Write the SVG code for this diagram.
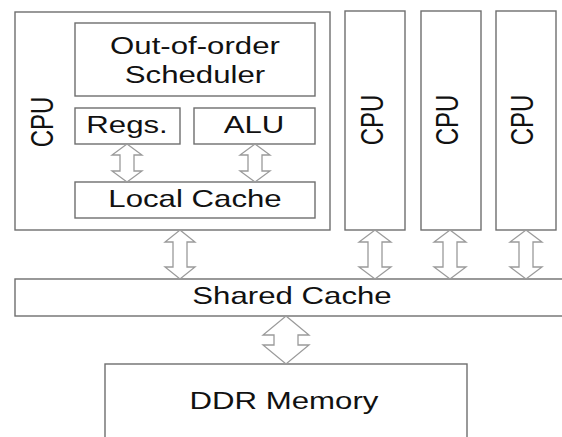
<svg xmlns="http://www.w3.org/2000/svg" width="562" height="437" viewBox="0 0 562 437">
<style>
.box{fill:#fff;stroke:#6e6e6e;stroke-width:1.4}
.arr{fill:#fff;stroke:#9a9a9a;stroke-width:1.3;stroke-linejoin:miter}
.t{font-family:"Liberation Sans",Arial,sans-serif;font-size:24px;fill:#111;text-anchor:middle}
</style>
<rect width="562" height="437" fill="#fff"/>
<g id="cpu-main">
<rect class="box" x="15" y="12" width="315" height="218"/>
<g transform="translate(53,122) scale(1.28,1) rotate(-90)"><text class="t" x="0" y="0">CPU</text></g>
</g>
<g id="scheduler">
<rect class="box" x="75" y="23" width="240" height="73"/>
<g transform="translate(195,54) scale(1.3,1)"><text class="t" x="0" y="0">Out-of-order</text></g>
<g transform="translate(195,83) scale(1.3,1)"><text class="t" x="0" y="0">Scheduler</text></g>
</g>
<g id="regs">
<rect class="box" x="75" y="108" width="105" height="36"/>
<g transform="translate(127,133) scale(1.3,1)"><text class="t" x="0" y="0">Regs.</text></g>
</g>
<g id="alu">
<rect class="box" x="194" y="108" width="121" height="36"/>
<g transform="translate(254,133) scale(1.3,1)"><text class="t" x="0" y="0">ALU</text></g>
</g>
<g id="local-cache">
<rect class="box" x="75" y="182" width="240" height="36"/>
<g transform="translate(195,207) scale(1.3,1)"><text class="t" x="0" y="0">Local Cache</text></g>
</g>
<g id="cpu-2">
<rect class="box" x="345" y="11" width="60" height="219"/>
<g transform="translate(383,120) scale(1.28,1) rotate(-90)"><text class="t" x="0" y="0">CPU</text></g>
</g>
<g id="cpu-3">
<rect class="box" x="421" y="11" width="60" height="219"/>
<g transform="translate(458,120) scale(1.28,1) rotate(-90)"><text class="t" x="0" y="0">CPU</text></g>
</g>
<g id="cpu-4">
<rect class="box" x="496" y="11" width="60" height="219"/>
<g transform="translate(533,120) scale(1.28,1) rotate(-90)"><text class="t" x="0" y="0">CPU</text></g>
</g>
<g id="shared-cache">
<rect class="box" x="15" y="279" width="560" height="37"/>
<g transform="translate(292,304) scale(1.3,1)"><text class="t" x="0" y="0">Shared Cache</text></g>
</g>
<g id="ddr-memory">
<rect class="box" x="105" y="364" width="362" height="90"/>
<g transform="translate(284,409) scale(1.3,1)"><text class="t" x="0" y="0">DDR Memory</text></g>
</g>
<g id="connectors">
<path class="arr" d="M127,144 L142,155 L134,155 L134,171 L142,171 L127,182 L112,171 L120,171 L120,155 L112,155 Z"/>
<path class="arr" d="M255,144 L270,155 L262,155 L262,171 L270,171 L255,182 L240,171 L248,171 L248,155 L240,155 Z"/>
<path class="arr" d="M180,230 L195,242 L187,242 L187,267 L195,267 L180,279 L165,267 L173,267 L173,242 L165,242 Z"/>
<path class="arr" d="M375,230 L391,242 L382,242 L382,267 L391,267 L375,279 L359,267 L368,267 L368,242 L359,242 Z"/>
<path class="arr" d="M450,230 L466,242 L457,242 L457,267 L466,267 L450,279 L434,267 L443,267 L443,242 L434,242 Z"/>
<path class="arr" d="M526,230 L542,242 L533,242 L533,267 L542,267 L526,279 L510,267 L519,267 L519,242 L510,242 Z"/>
<path class="arr" d="M286,316 L309,335 L298,335 L298,345 L309,345 L286,364 L263,345 L274,345 L274,335 L263,335 Z"/>
</g>
</svg>
